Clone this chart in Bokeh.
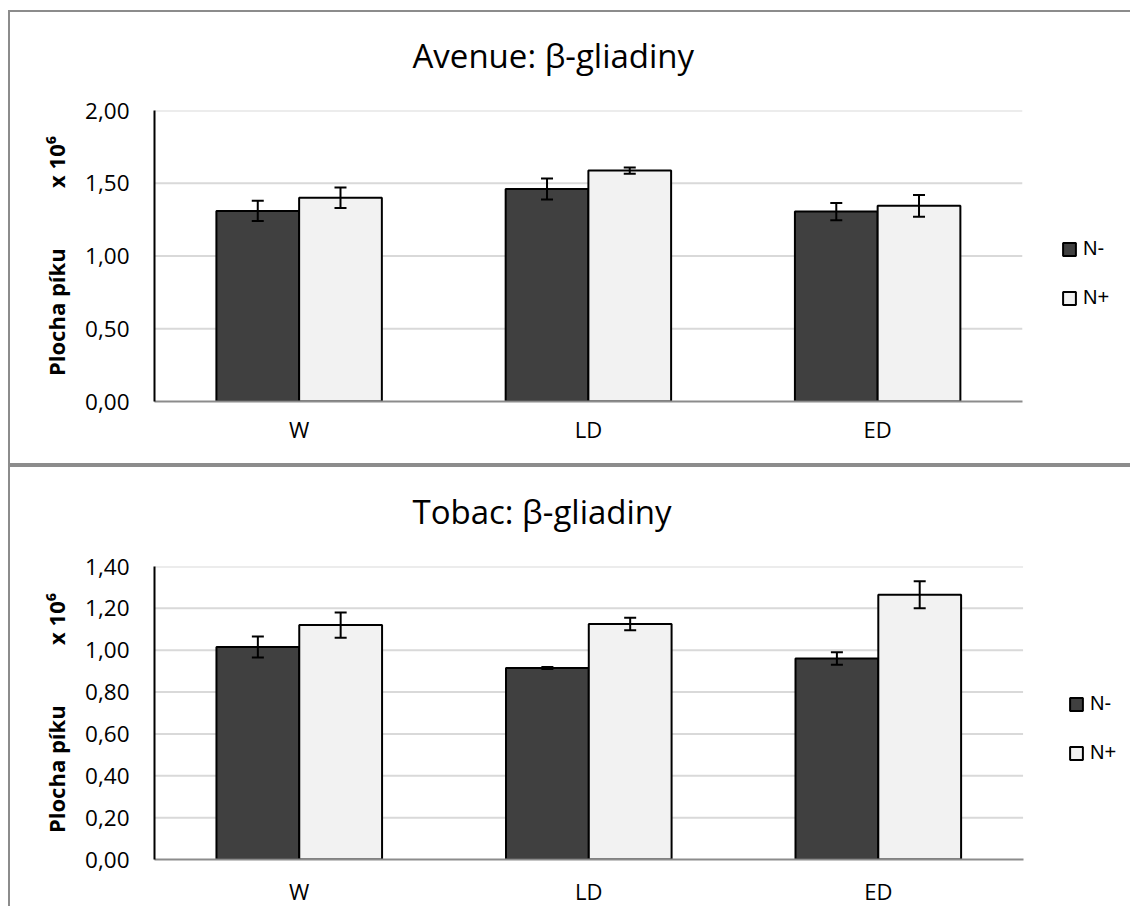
from bokeh.plotting import figure
from bokeh.models import (Range1d, FixedTicker, ColumnDataSource,
                          Whisker, TeeHead, Legend, LegendItem)
from bokeh.transform import dodge
from bokeh.layouts import column
from bokeh.embed import file_html
from bokeh.resources import INLINE

# ---------------- data ----------------
categories = ["W", "LD", "ED"]
series_labels = ["N-", "N+"]

avenue_title = "Avenue: β-gliadiny"
avenue_nminus = [1.31, 1.46, 1.305]
avenue_nminus_err = [0.07, 0.072, 0.06]
avenue_nplus = [1.40, 1.587, 1.345]
avenue_nplus_err = [0.07, 0.022, 0.075]
avenue_ticks = [0.0, 0.5, 1.0, 1.5, 2.0]
avenue_tick_labels = ["0,00", "0,50", "1,00", "1,50", "2,00"]

tobac_title = "Tobac: β-gliadiny"
tobac_nminus = [1.015, 0.915, 0.96]
tobac_nminus_err = [0.05, 0.005, 0.03]
tobac_nplus = [1.12, 1.125, 1.265]
tobac_nplus_err = [0.06, 0.03, 0.065]
tobac_ticks = [0.0, 0.2, 0.4, 0.6, 0.8, 1.0, 1.2, 1.4]
tobac_tick_labels = ["0,00", "0,20", "0,40", "0,60", "0,80", "1,00", "1,20", "1,40"]

y_label = "Plocha píku\u2003\u2003\u2002\u2005x 10\u2076"

DARK = "#404040"
LIGHT = "#f2f2f2"
BORDER = "2px solid #8c8c8c"
FONT = "Open Sans"
FIG_W = 1122          # includes the 2px left border
CANVAS_W = FIG_W - 2
PLOT_RIGHT = 1020 - 10  # right end of the category area, canvas px


def make_chart(title, nminus, nminus_err, nplus, nplus_err, ticks, tick_labels,
               height, left, top, bottom, legend_loc, x_standoff, styles, margin):
    idx = list(range(len(categories)))
    src = ColumnDataSource(dict(
        xi=idx,
        nminus=nminus,
        nminus_lo=[v - e for v, e in zip(nminus, nminus_err)],
        nminus_hi=[v + e for v, e in zip(nminus, nminus_err)],
        nplus=nplus,
        nplus_lo=[v - e for v, e in zip(nplus, nplus_err)],
        nplus_hi=[v + e for v, e in zip(nplus, nplus_err)],
    ))
    x_lo = -0.5
    x_hi = len(categories) - 0.5
    cat_px = (PLOT_RIGHT - left) / len(categories)
    extra = (CANVAS_W - PLOT_RIGHT) / cat_px
    grid_src = ColumnDataSource(dict(y=ticks[1:], x0=[x_lo] * (len(ticks) - 1),
                                     x1=[x_hi] * (len(ticks) - 1)))

    p = figure(x_range=Range1d(x_lo, x_hi + extra),
               y_range=Range1d(ticks[0], ticks[-1]),
               width=FIG_W, height=height,
               output_backend="svg", toolbar_location=None,
               min_border_left=left, min_border_right=0,
               min_border_top=top, min_border_bottom=bottom,
               background_fill_color="white", border_fill_color="white",
               outline_line_color=None)
    p.styles = styles
    p.margin = margin

    # horizontal gridlines across the category area only
    p.segment(x0="x0", x1="x1", y0="y", y1="y", source=grid_src,
              line_color="#d9d9d9", line_width=2)

    w = 0.286
    off = 0.143
    r1 = p.vbar(x=dodge("xi", -off), top="nminus", width=w,
                source=src, fill_color=DARK, line_color="black", line_width=2)
    r2 = p.vbar(x=dodge("xi", off), top="nplus", width=w,
                source=src, fill_color=LIGHT, line_color="black", line_width=2)

    for base, lo, hi in [(-off, "nminus_lo", "nminus_hi"), (off, "nplus_lo", "nplus_hi")]:
        wk = Whisker(source=src, base=dodge("xi", base),
                     lower=lo, upper=hi, line_color="black", line_width=2,
                     upper_head=TeeHead(size=12, line_width=2, line_color="black"),
                     lower_head=TeeHead(size=12, line_width=2, line_color="black"),
                     level="annotation")
        p.add_layout(wk)

    # title
    p.title.text = title
    p.title.text_font = FONT
    p.title.text_font_size = "33px"
    p.title.text_font_style = "normal"
    p.title.text_color = "black"
    p.title.align = "left"
    p.title.vertical_align = "top"
    p.title.offset = 258
    try:
        p.title.padding = dict(left=0, right=0, top=0, bottom=26)
        p.title.standoff = 10
    except Exception:
        p.title.standoff = 44

    # y axis
    yax = p.yaxis[0]
    yax.ticker = FixedTicker(ticks=ticks)
    yax.major_label_overrides = {t: l for t, l in zip(ticks, tick_labels)}
    yax.major_label_text_font = FONT
    yax.major_label_text_font_size = "22.5px"
    yax.major_label_text_color = "black"
    yax.major_label_standoff = 25
    yax.major_tick_line_color = None
    yax.minor_tick_line_color = None
    yax.major_tick_out = 0
    yax.axis_line_color = "black"
    yax.axis_line_width = 2
    yax.axis_label = y_label
    yax.axis_label_text_font = FONT
    yax.axis_label_text_font_style = "bold"
    yax.axis_label_text_font_size = "22px"
    yax.axis_label_text_color = "black"
    yax.axis_label_standoff = 11

    # x axis
    xax = p.xaxis[0]
    xax.ticker = FixedTicker(ticks=idx)
    xax.major_label_overrides = {i: c for i, c in zip(idx, categories)}
    xax.bounds = (x_lo, x_hi)
    xax.major_label_text_font = FONT
    xax.major_label_text_font_size = "22px"
    xax.major_label_text_color = "black"
    xax.major_label_standoff = x_standoff
    xax.major_tick_line_color = None
    xax.minor_tick_line_color = None
    xax.major_tick_out = 0
    xax.axis_line_color = "#8c8c8c"
    xax.axis_line_width = 2

    p.xgrid.grid_line_color = None
    p.ygrid.grid_line_color = None

    legend = Legend(items=[LegendItem(label=series_labels[0], renderers=[r1]),
                           LegendItem(label=series_labels[1], renderers=[r2])],
                    location=legend_loc, orientation="vertical",
                    border_line_color=None, background_fill_alpha=0,
                    padding=0, margin=0, spacing=26,
                    glyph_width=16, glyph_height=16, label_height=22,
                    label_standoff=6,
                    label_text_font="Liberation Sans",
                    label_text_font_size="20px", label_text_color="black")
    p.add_layout(legend)
    return p


p1 = make_chart(avenue_title, avenue_nminus, avenue_nminus_err, avenue_nplus, avenue_nplus_err,
                avenue_ticks, avenue_tick_labels,
                height=455, left=144, top=98, bottom=66, legend_loc=(907, 92), x_standoff=12,
                styles={"border-left": BORDER, "border-top": BORDER, "border-bottom": BORDER},
                margin=(10, 0, 0, 8))
p2 = make_chart(tobac_title, tobac_nminus, tobac_nminus_err, tobac_nplus, tobac_nplus_err,
                tobac_ticks, tobac_tick_labels,
                height=441, left=137, top=99, bottom=47, legend_loc=(914, 95), x_standoff=16,
                styles={"border-left": BORDER, "border-top": BORDER},
                margin=(0, 0, 0, 8))

layout = column(p1, p2, spacing=0)
open("out.html", "w").write(file_html(layout, INLINE))
